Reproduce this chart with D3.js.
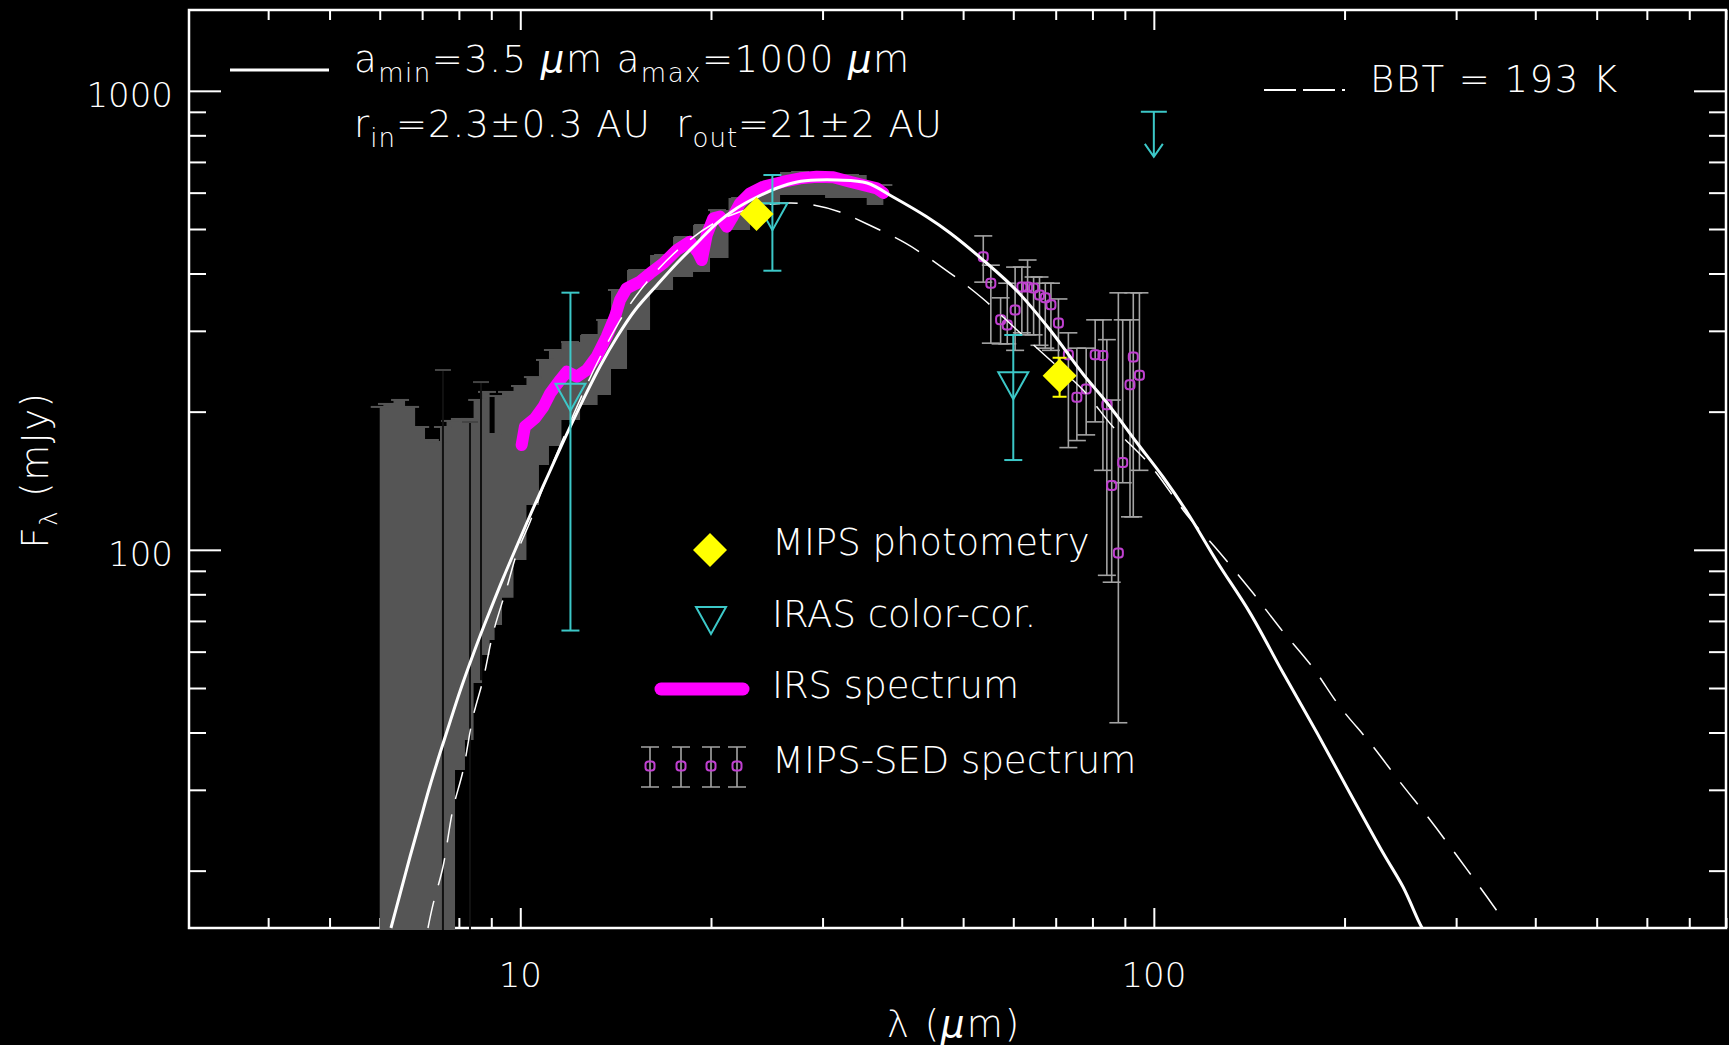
<!DOCTYPE html>
<html>
<head>
<meta charset="utf-8">
<script src="https://cdn.jsdelivr.net/npm/d3@7"></script>
<style>
  body { margin: 0; background: #000; }
  svg { display: block; background: #000; }
  svg text {
    fill: #fff;
    font-family: "DejaVu Sans ExtraLight", "DejaVu Sans", sans-serif; font-weight: 200;
    white-space: pre;
  }
</style>
</head>
<body>
<svg id="chart" width="1729" height="1045"></svg>
<script>
/* * * * * * * * * * * * * *
*           DATA           *
* * * * * * * * * * * * * */

// axis ticks
let xMajor = [10, 100];
let xMinor = [4, 5, 6, 7, 8, 9, 20, 30, 40, 50, 60, 70, 80, 90, 200, 300, 400, 500, 600, 700, 800];
let yMajor = [100, 1000];
let yMinor = [20, 30, 40, 50, 60, 70, 80, 90, 200, 300, 400, 500, 600, 700, 800, 900];

// disk model, a_min = 3.5 um (solid)
let modelWave = [6.25, 6.46, 6.70, 6.95, 7.20, 7.47, 7.75, 8.03, 8.33, 8.64, 8.96, 9.39, 9.88, 10.47, 11.14, 11.85, 12.56, 13.37, 14.21, 15.18, 16.44, 17.68, 19.01, 20.44, 21.99, 23.64, 25.43, 27.35, 29.41, 31.62, 35.27, 38.77, 43.86, 47.69, 53.77, 60.82, 68.6, 77.3, 84.4, 94.1, 103.4, 112.8, 125.9, 141.9, 160.0, 181.0, 204.0, 230.1, 247.4, 261.3, 265.1];
let modelFlux = [15.0, 17.79, 21.47, 25.72, 30.58, 36.08, 42.27, 49.13, 56.68, 64.9, 73.71, 86.52, 102.07, 122.75, 148.5, 179.2, 212.0, 251.5, 290.9, 333.1, 377.6, 421.6, 466.2, 515.2, 555.4, 587.0, 614.1, 632.9, 639.2, 639.2, 629.7, 587.0, 531.0, 490.1, 427.9, 366.4, 301.2, 241.6, 208.9, 170.9, 144.1, 120.9, 94.1, 72.8, 53.9, 39.9, 29.5, 21.85, 18.42, 15.61, 15.0];

// blackbody T = 193 K (dashed)
let bbWave = [7.15, 7.28, 7.55, 7.83, 8.12, 8.42, 8.74, 9.06, 9.53, 9.88, 10.36, 11.14, 13.37, 15.23, 17.87, 20.67, 23.90, 26.66, 28.98, 31.96, 35.27, 40.49, 46.49, 53.57, 60.82, 68.6, 77.3, 86.25, 98.65, 112.8, 127.2, 143.4, 158.2, 178.4, 196.8, 219.5, 244.7, 273.0, 304.3, 335.7, 354.5];
let bbFlux = [15.0, 16.84, 20.37, 27.25, 32.97, 43.2, 52.3, 65.9, 83.0, 98.4, 115.0, 149.2, 263.1, 357.3, 454.6, 523.1, 561.1, 569.6, 564.0, 544.5, 512.7, 466.2, 411.1, 353.7, 301.2, 259.2, 222.9, 185.2, 153.0, 119.1, 98.4, 80.5, 67.55, 55.27, 45.46, 37.95, 31.2, 25.78, 21.10, 17.52, 15.77];

// IRS spectrum (magenta) and its error envelope (grey)
let irsWave = [10.05, 10.17, 10.55, 10.88, 11.15, 11.56, 11.84, 12.28, 12.73, 13.20, 13.69, 14.11, 14.37, 14.72, 15.45, 16.03, 16.82, 17.66, 18.53, 19.10, 19.34, 19.69, 20.17, 20.67, 21.18, 21.57, 22.23, 23.05, 24.19, 26.02, 27.65, 29.37, 31.2, 33.15, 34.38, 36.55, 37.42];
let irsFlux = [169.2, 185.5, 193.5, 205.1, 219.3, 234.5, 244.4, 238.3, 246.5, 263.5, 291.4, 322.1, 350.2, 371.4, 383.8, 400.4, 420.9, 450, 469.2, 443.2, 427.9, 485.1, 527.6, 531.9, 505.8, 527.6, 569, 598.1, 618.2, 633.9, 644.8, 650, 648, 633.9, 626, 613.2, 598.9];

let bandWave = [6.0, 6.16, 6.46, 6.70, 6.95, 7.20, 7.39, 7.55, 7.75, 8.03, 8.33, 8.55, 8.86, 9.03, 9.19, 9.53, 9.99, 10.47, 10.94, 11.26, 11.98, 12.89, 13.61, 14.21, 15.29, 16.80, 18.07, 19.43, 20.44, 22.23, 23.90, 27.65, 33.15, 37.42];
let bandHi = [204.8, 207.9, 212.1, 204.8, 185.2, 173.5, 171.8, 185.2, 190.9, 192.8, 192.8, 212.1, 220.8, 178.8, 216.3, 220.8, 227.5, 237.9, 259.2, 272.5, 283.6, 293.8, 316.8, 368.2, 407.0, 438.8, 480.3, 510.2, 549.9, 584.1, 614.1, 665.6, 655.5, 623.4];
let bandLo = [12, 12, 12, 12, 12, 12, 12, 12, 12, 33.14, 38.52, 51.28, 59.0, 63.6, 68.6, 78.6, 95.0, 125.2, 153.0, 168.4, 191.8, 206.8, 217.4, 247.7, 301.2, 368.2, 393.0, 402.9, 432.3, 497.5, 564.0, 593.0, 584.1, 564.0];

// dark IRS error bars inside the grey envelope
let darkBarWave = [7.55, 8.33, 8.67];
let darkBarHi = [246.5, 189.9, 232.0];
let darkBarLo = [12, 12, 52];

// IRAS colour-corrected
let irasWave = [12, 25, 60];
let irasFlux = [220, 544, 233];
let irasLo = [66.7, 405.6, 156.9];
let irasHi = [363.3, 655.5, 293.8];
let irasLimitWave = [100];
let irasLimitFlux = [900];

// MIPS photometry
let mipsWave = [23.6, 71];
let mipsFlux = [539, 239.5];
let mipsLo = [525, 215.6];
let mipsHi = [553, 262.1];

// MIPS-SED spectrum
let sedWave = [53.8, 55.3, 57.3, 58.7, 60.4, 61.9, 63.2, 64.6, 66.0, 67.4, 68.8, 70.7, 73.3, 75.6, 78.2, 80.8, 83.1, 84.3, 85.8, 87.9, 89.3, 91.7, 92.8, 94.9];
let sedFlux = [435, 381, 317, 309, 333, 374, 374, 372, 359, 354, 342, 312, 266, 215, 224, 266, 265, 207, 138, 98.4, 155, 229, 263, 240];
let sedLo = [383, 282, 281, 281, 272, 297, 294, 294, 279, 275, 272, 246, 167, 173, 178, 190, 149, 88, 85, 42, 140, 118, 118, 149];
let sedHi = [483, 417, 354, 381, 413, 413, 428, 393, 393, 381, 381, 352, 297, 275, 275, 317, 317, 287, 212, 363, 317, 317, 363, 363];

/* * * * * * * * * * * * * *
*           CHART          *
* * * * * * * * * * * * * */

const frame = {left: 189, right: 1726, top: 10, bottom: 928};

const MAGENTA = "#ff00ff";
const SEDPINK = "#c040d0";
const CYAN = "#3cc8c8";
const YELLOW = "#ffff00";
const GREYBAR = "#a4a4a4";
const BAND = "#555555";

let svg = d3.select("#chart");

let x = d3.scaleLog().domain([3, 800]).range([frame.left, frame.right]);
let y = d3.scaleLog().domain([15, 1500]).range([frame.bottom, frame.top]);

// ticks on all four sides, pointing inward
function tickAxis(gen, tx, ty) {
    let g = svg.append("g")
        .attr("transform", `translate(${tx},${ty})`)
        .attr("color", "#fff")
        .call(gen);
    g.select(".domain").remove();
    g.selectAll("line").attr("stroke-width", 2);
    return g;
}
tickAxis(d3.axisBottom(x).tickValues(xMinor).tickSize(-10).tickSizeOuter(0).tickFormat(""), 0, frame.bottom);
tickAxis(d3.axisBottom(x).tickValues(xMajor).tickSize(-20).tickSizeOuter(0).tickFormat(""), 0, frame.bottom);
tickAxis(d3.axisTop(x).tickValues(xMinor).tickSize(-10).tickSizeOuter(0).tickFormat(""), 0, frame.top);
tickAxis(d3.axisTop(x).tickValues(xMajor).tickSize(-20).tickSizeOuter(0).tickFormat(""), 0, frame.top);
tickAxis(d3.axisLeft(y).tickValues(yMinor).tickSize(-17).tickSizeOuter(0).tickFormat(""), frame.left, 0);
tickAxis(d3.axisLeft(y).tickValues(yMajor).tickSize(-32).tickSizeOuter(0).tickFormat(""), frame.left, 0);
tickAxis(d3.axisRight(y).tickValues(yMinor).tickSize(-17).tickSizeOuter(0).tickFormat(""), frame.right, 0);
tickAxis(d3.axisRight(y).tickValues(yMajor).tickSize(-32).tickSizeOuter(0).tickFormat(""), frame.right, 0);

svg.append("rect")
    .attr("x", frame.left).attr("y", frame.top)
    .attr("width", frame.right - frame.left).attr("height", frame.bottom - frame.top)
    .attr("fill", "none").attr("stroke", "#fff").attr("stroke-width", 2.5);

// tick labels
svg.selectAll(".ylab").data(yMajor).enter().append("text")
    .attr("class", "ylab")
    .attr("x", frame.left - 16)
    .attr("y", d => y(d) + 16)
    .attr("text-anchor", "end")
    .attr("font-size", 34)
    .text(d => d);
svg.selectAll(".xlab").data(xMajor).enter().append("text")
    .attr("class", "xlab")
    .attr("x", d => x(d))
    .attr("y", 987)
    .attr("text-anchor", "middle")
    .attr("font-size", 34)
    .text(d => d);

// axis titles
let xt = svg.append("text").attr("x", 887).attr("y", 1037).attr("font-size", 37).attr("letter-spacing", 2);
xt.append("tspan").text("λ (");
xt.append("tspan").attr("font-style", "italic").text("μ");
xt.append("tspan").text("m)");

let yt = svg.append("text")
    .attr("transform", "translate(48,470) rotate(-90)")
    .attr("text-anchor", "middle")
    .attr("font-size", 37)
    .attr("letter-spacing", 1.5);
yt.append("tspan").text("F");
yt.append("tspan").attr("font-size", 24).attr("dy", 9).text("λ");
yt.append("tspan").attr("dy", -9).text(" (mJy)");

// data layer, clipped to the frame
svg.append("clipPath").attr("id", "clip")
    .append("rect")
    .attr("x", frame.left).attr("y", frame.top)
    .attr("width", frame.right - frame.left).attr("height", frame.bottom - frame.top + 2);

let plot = svg.append("g").attr("clip-path", "url(#clip)");

// grey IRS error envelope
let bandData = bandWave.map((w, i) => ({w: w, hi: bandHi[i], lo: bandLo[i]}));
plot.append("path")
    .datum(bandData)
    .attr("fill", BAND)
    .attr("d", d3.area()
        .x(d => x(d.w))
        .y0(d => y(d.lo))
        .y1(d => y(d.hi))
        .curve(d3.curveStep));
plot.selectAll(".bandcap").data(bandData).enter().append("line")
    .attr("class", "bandcap")
    .attr("x1", d => x(d.w) - 9).attr("x2", d => x(d.w) + 9)
    .attr("y1", d => y(d.hi)).attr("y2", d => y(d.hi))
    .attr("stroke", BAND).attr("stroke-width", 2);

let darkData = darkBarWave.map((w, i) => ({w: w, hi: darkBarHi[i], lo: darkBarLo[i]}));
plot.selectAll(".darkbar").data(darkData).enter().append("line")
    .attr("x1", d => x(d.w)).attr("x2", d => x(d.w))
    .attr("y1", d => y(d.hi)).attr("y2", d => y(d.lo))
    .attr("stroke", "#111").attr("stroke-width", 2);
plot.selectAll(".darkcap").data(darkData).enter().append("line")
    .attr("x1", d => x(d.w) - 8).attr("x2", d => x(d.w) + 8)
    .attr("y1", d => y(d.hi)).attr("y2", d => y(d.hi))
    .attr("stroke", "#444").attr("stroke-width", 2);

// IRS spectrum
plot.append("path")
    .datum(irsWave.map((w, i) => [w, irsFlux[i]]))
    .attr("fill", "none")
    .attr("stroke", MAGENTA)
    .attr("stroke-width", 12)
    .attr("stroke-linejoin", "round")
    .attr("stroke-linecap", "round")
    .attr("d", d3.line().x(d => x(d[0])).y(d => y(d[1])));

// MIPS-SED error bars + markers
let sedData = sedWave.map((w, i) => ({w: w, f: sedFlux[i], lo: sedLo[i], hi: sedHi[i]}));
let sedG = plot.append("g").attr("stroke", GREYBAR).attr("stroke-width", 1.6);
sedG.selectAll(".sedbar").data(sedData).enter().append("line")
    .attr("x1", d => x(d.w)).attr("x2", d => x(d.w))
    .attr("y1", d => y(d.lo)).attr("y2", d => y(d.hi));
sedG.selectAll(".sedtop").data(sedData).enter().append("line")
    .attr("x1", d => x(d.w) - 9).attr("x2", d => x(d.w) + 9)
    .attr("y1", d => y(d.hi)).attr("y2", d => y(d.hi));
sedG.selectAll(".sedbot").data(sedData).enter().append("line")
    .attr("x1", d => x(d.w) - 9).attr("x2", d => x(d.w) + 9)
    .attr("y1", d => y(d.lo)).attr("y2", d => y(d.lo));
plot.selectAll(".sedpt").data(sedData).enter().append("rect")
    .attr("x", d => x(d.w) - 4.5).attr("y", d => y(d.f) - 4.5)
    .attr("width", 9).attr("height", 9).attr("rx", 3)
    .attr("fill", "none").attr("stroke", SEDPINK).attr("stroke-width", 2);

// model curves
plot.append("path")
    .datum(modelWave.map((w, i) => [w, modelFlux[i]]))
    .attr("fill", "none").attr("stroke", "#fff").attr("stroke-width", 3)
    .attr("d", d3.line().x(d => x(d[0])).y(d => y(d[1])).curve(d3.curveCatmullRom.alpha(0.5)));
plot.append("path")
    .datum(bbWave.map((w, i) => [w, bbFlux[i]]))
    .attr("fill", "none").attr("stroke", "#fff").attr("stroke-width", 1.5)
    .attr("stroke-dasharray", "28,16")
    .attr("d", d3.line().x(d => x(d[0])).y(d => y(d[1])).curve(d3.curveCatmullRom.alpha(0.5)));

// IRAS points
let irasData = irasWave.map((w, i) => ({w: w, f: irasFlux[i], lo: irasLo[i], hi: irasHi[i]}));
let irasG = plot.append("g").attr("stroke", CYAN).attr("stroke-width", 2).attr("fill", "none");
irasG.selectAll(".ibar").data(irasData).enter().append("line")
    .attr("x1", d => x(d.w)).attr("x2", d => x(d.w))
    .attr("y1", d => y(d.lo)).attr("y2", d => y(d.hi));
irasG.selectAll(".icapt").data(irasData).enter().append("line")
    .attr("x1", d => x(d.w) - 9).attr("x2", d => x(d.w) + 9)
    .attr("y1", d => y(d.hi)).attr("y2", d => y(d.hi));
irasG.selectAll(".icapb").data(irasData).enter().append("line")
    .attr("x1", d => x(d.w) - 9).attr("x2", d => x(d.w) + 9)
    .attr("y1", d => y(d.lo)).attr("y2", d => y(d.lo));
const triDown = "M-15,-9L15,-9L0,18Z";
irasG.selectAll(".itri").data(irasData).enter().append("path")
    .attr("transform", d => `translate(${x(d.w)},${y(d.f)})`)
    .attr("d", triDown);

// IRAS 100 um upper limit
let limData = irasLimitWave.map((w, i) => ({w: w, f: irasLimitFlux[i]}));
let limG = plot.selectAll(".lim").data(limData).enter().append("g")
    .attr("transform", d => `translate(${x(d.w)},${y(d.f)})`)
    .attr("stroke", CYAN).attr("stroke-width", 2).attr("fill", "none");
limG.append("path").attr("d", "M-13,0H13M0,0V45M-9,32L0,45L9,32");

// MIPS photometry
let mipsData = mipsWave.map((w, i) => ({w: w, f: mipsFlux[i], lo: mipsLo[i], hi: mipsHi[i]}));
let mipsG = plot.append("g").attr("stroke", YELLOW).attr("stroke-width", 2);
mipsG.selectAll(".mbar").data(mipsData).enter().append("path")
    .attr("d", d => `M${x(d.w)},${y(d.lo)}V${y(d.hi)}M${x(d.w) - 7},${y(d.lo)}h14M${x(d.w) - 7},${y(d.hi)}h14`);
const diamond = "M0,-17L17,0L0,17L-17,0Z";
plot.selectAll(".mdia").data(mipsData).enter().append("path")
    .attr("transform", d => `translate(${x(d.w)},${y(d.f)})`)
    .attr("d", diamond)
    .attr("fill", YELLOW);

/* * * * * * * * * * * * * *
*          LEGENDS         *
* * * * * * * * * * * * * */

// top left: model parameters
svg.append("line").attr("x1", 230).attr("x2", 329).attr("y1", 70).attr("y2", 70)
    .attr("stroke", "#fff").attr("stroke-width", 3);

let t1 = svg.append("text").attr("x", 354).attr("y", 72).attr("font-size", 37).attr("letter-spacing", 1.5);
t1.append("tspan").text("a");
t1.append("tspan").attr("font-size", 26).attr("dy", 10).text("min");
t1.append("tspan").attr("dy", -10).text("=3.5 ");
t1.append("tspan").attr("font-style", "italic").text("μ");
t1.append("tspan").text("m a");
t1.append("tspan").attr("font-size", 26).attr("dy", 10).text("max");
t1.append("tspan").attr("dy", -10).text("=1000 ");
t1.append("tspan").attr("font-style", "italic").text("μ");
t1.append("tspan").text("m");

let t2 = svg.append("text").attr("x", 354).attr("y", 137).attr("font-size", 37).attr("letter-spacing", 1);
t2.append("tspan").text("r");
t2.append("tspan").attr("font-size", 26).attr("dy", 10).text("in");
t2.append("tspan").attr("dy", -10).text("=2.3±0.3 AU  r");
t2.append("tspan").attr("font-size", 26).attr("dy", 10).text("out");
t2.append("tspan").attr("dy", -10).text("=21±2 AU");

// top right: blackbody
svg.append("line").attr("x1", 1264).attr("x2", 1346).attr("y1", 90).attr("y2", 90)
    .attr("stroke", "#fff").attr("stroke-width", 2)
    .attr("stroke-dasharray", "32,7,32,7,3,100");
svg.append("text").attr("x", 1370).attr("y", 92).attr("font-size", 37).attr("letter-spacing", 1.5)
    .text("BBT = 193 K");

// centre legend
let leg = svg.append("g");
leg.append("path").attr("transform", "translate(710,550)").attr("d", diamond).attr("fill", YELLOW);
leg.append("path").attr("transform", "translate(711,616)").attr("d", triDown)
    .attr("fill", "none").attr("stroke", CYAN).attr("stroke-width", 2);
leg.append("line").attr("x1", 661).attr("x2", 743).attr("y1", 689).attr("y2", 689)
    .attr("stroke", MAGENTA).attr("stroke-width", 13).attr("stroke-linecap", "round");
[650, 681, 711, 737].forEach(cx => {
    leg.append("path").attr("d", `M${cx},747V787M${cx - 9},747h18M${cx - 9},787h18`)
        .attr("stroke", GREYBAR).attr("stroke-width", 1.6);
    leg.append("rect").attr("x", cx - 4.5).attr("y", 761.5).attr("width", 9).attr("height", 9).attr("rx", 3)
        .attr("fill", "none").attr("stroke", SEDPINK).attr("stroke-width", 2);
});
let legText = [["MIPS photometry", 555], ["IRAS color-cor.", 627], ["IRS spectrum", 698], ["MIPS-SED spectrum", 773]];
leg.selectAll(".lt").data(legText).enter().append("text")
    .attr("x", 772).attr("y", d => d[1])
    .attr("font-size", 37)
    .text(d => d[0]);
</script>
</body>
</html>
